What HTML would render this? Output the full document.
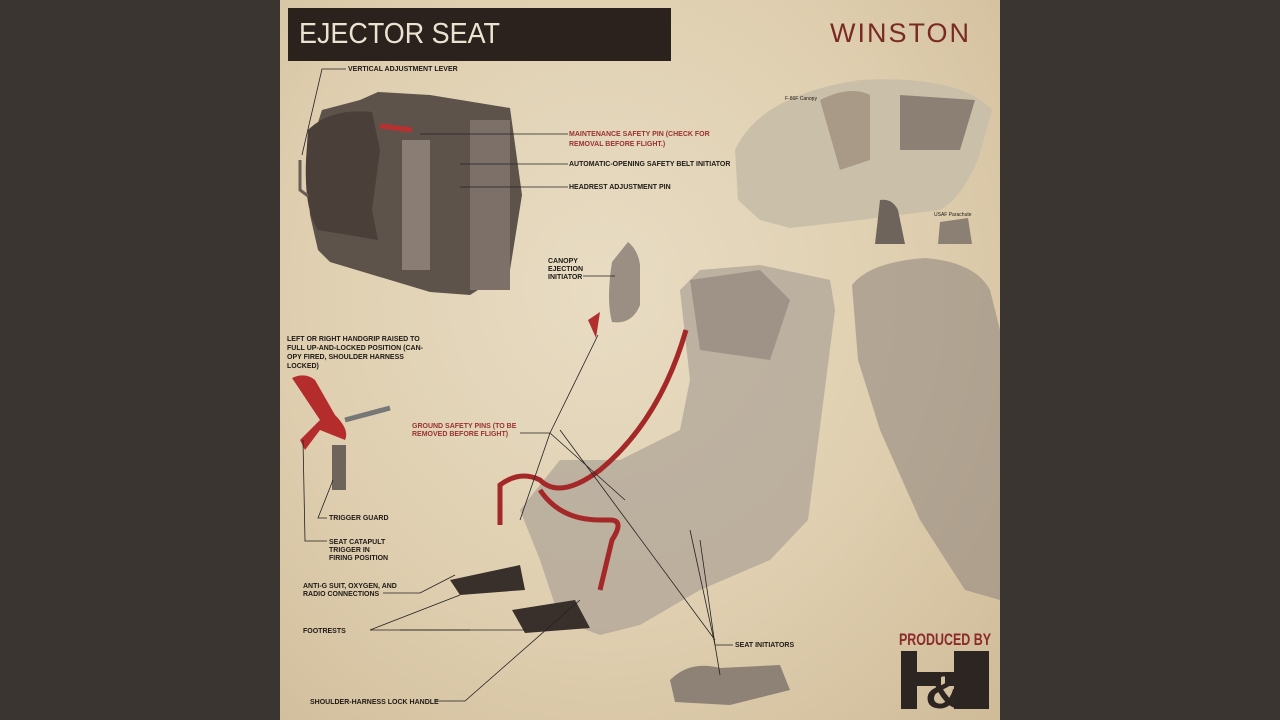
<!DOCTYPE html>
<html><head><meta charset="utf-8"><style>
html,body{margin:0;padding:0;width:1280px;height:720px;overflow:hidden;background:#3b3531}
.cover{position:absolute;left:280px;top:0;width:720px;height:720px;background:radial-gradient(ellipse at 45% 40%,#e8dcc3 0%,#dfcfb0 55%,#cfbb98 100%);overflow:hidden}
svg{position:absolute;left:0;top:0}
.t{font-family:"Liberation Sans",sans-serif;font-weight:bold;font-size:7px;fill:#1e1a16}
.r{fill:#9a3232}
</style></head><body>
<div class="cover"></div>
<svg width="1280" height="720" viewBox="0 0 1280 720">
<rect x="288" y="8" width="383" height="53" fill="#2b211d"/>
<text x="299" y="43" font-family="Liberation Sans,sans-serif" font-size="29" fill="#ece2d0" textLength="201" lengthAdjust="spacingAndGlyphs">EJECTOR SEAT</text>
<text x="830" y="42" font-family="Liberation Sans,sans-serif" font-size="27" fill="#7a2a24" letter-spacing="2">WINSTON</text>

<!-- top-left seat -->
<path d="M322 110 L360 100 L378 92 L430 95 L510 108 L522 195 L510 270 L470 295 L430 292 L330 262 L318 250 L310 215 L306 160 Z" fill="#5e534b"/>
<path d="M308 130 Q330 108 372 112 L380 150 L372 210 L378 240 L318 230 Q304 210 306 160 Z" fill="#4a3f39"/>
<rect x="470" y="120" width="40" height="170" fill="#7c7068"/>
<rect x="402" y="140" width="28" height="130" fill="#8a7d73"/>
<path d="M380 126 L412 130" stroke="#b83030" stroke-width="5"/>
<path d="M300 160 L300 190 L308 196" stroke="#6a5e56" stroke-width="3" fill="none"/>
<!-- canopy -->
<path d="M735 150 Q760 95 860 80 Q960 75 992 110 L978 160 Q960 200 940 210 L860 220 L790 228 L760 220 L738 200 Z" fill="#cabfa8"/>
<path d="M820 100 Q850 85 870 95 L870 160 L840 170 Z" fill="#a89a86"/>
<path d="M900 95 L975 100 L960 150 L900 150 Z" fill="#8c8074"/>
<path d="M880 200 Q892 198 898 210 L905 244 L875 244 Z" fill="#6e645c"/>
<path d="M940 222 L968 218 L972 244 L938 244 Z" fill="#8c8074"/>
<text x="785" y="100" class="t" style="font-size:5px;font-weight:normal">F-86F Canopy</text>
<text x="934" y="216" class="t" style="font-size:5px;font-weight:normal">USAF Parachute</text>

<!-- right ghost seat -->
<path d="M852 285 Q870 262 925 258 Q975 262 990 290 L1000 330 L1000 600 L965 590 L920 520 L880 430 L858 360 Z" fill="#9a8e82" opacity="0.65"/>
<!-- main seat -->
<path d="M680 290 L700 270 L760 265 L830 280 L835 310 L808 520 L770 560 L700 590 L640 625 L600 635 L560 620 L540 560 L520 510 L560 460 L620 460 L680 430 L690 380 Z" fill="#aca196" opacity="0.7"/>
<path d="M690 280 L760 270 L790 300 L770 360 L700 350 Z" fill="#978b80" opacity="0.8"/>
<path d="M450 580 L520 565 L525 590 L460 595 Z" fill="#3a302b"/>
<path d="M512 610 L575 600 L590 628 L525 633 Z" fill="#3a302b"/>
<path d="M628 242 Q638 250 640 265 L640 305 Q632 325 612 322 Q606 300 612 262 Z" fill="#9b8e82"/>
<path d="M670 680 Q690 660 720 668 L780 665 L790 690 L730 705 L675 702 Z" fill="#8e8276"/>
<!-- red harness -->
<path d="M686 330 Q660 420 600 470 Q560 500 540 480 Q520 470 500 485 L500 525 M540 490 Q560 520 600 520 L610 520 Q625 520 612 540 L600 590" stroke="#a42828" stroke-width="5" fill="none"/>
<path d="M588 320 L600 312 L596 338 Z" fill="#b03030"/>
<!-- handgrip -->
<path d="M292 378 Q305 372 315 380 L335 415 Q350 430 345 440 L320 430 L305 450 L300 440 L320 420 Z" fill="#b52c2c"/>
<path d="M345 420 L390 408" stroke="#777" stroke-width="5"/>
<rect x="332" y="445" width="14" height="45" fill="#6e645c"/>

<g stroke="#222" stroke-width="0.8" fill="none">
<path d="M346 69 L322 69 L302 155"/>
<path d="M568 134 L420 134"/><path d="M568 164 L460 164"/><path d="M568 187 L460 187"/>
<path d="M583 276 L615 276"/>
<path d="M520 433 L550 433 L598 335"/><path d="M550 433 L520 520"/><path d="M550 433 L625 500"/>
<path d="M327 518 L318 518 L333 480"/><path d="M327 541 L305 541 L303 440"/>
<path d="M383 593 L420 593 L455 575"/>
<path d="M370 630 L470 630"/><path d="M370 630 L460 595"/><path d="M400 630 L525 630"/>
<path d="M435 701 L465 701 L580 600"/>
<path d="M733 645 L715 645 L690 530"/><path d="M715 645 L700 540"/><path d="M715 645 L720 675"/>
<path d="M560 430 L715 640"/>
</g>
<text x="348" y="71" class="t">VERTICAL ADJUSTMENT LEVER</text>
<text x="569" y="136" class="t r">MAINTENANCE SAFETY PIN (CHECK FOR</text>
<text x="569" y="146" class="t r">REMOVAL BEFORE FLIGHT.)</text>
<text x="569" y="166" class="t">AUTOMATIC-OPENING SAFETY BELT INITIATOR</text>
<text x="569" y="189" class="t">HEADREST ADJUSTMENT PIN</text>
<text x="548" y="263" class="t">CANOPY</text>
<text x="548" y="271" class="t">EJECTION</text>
<text x="548" y="279" class="t">INITIATOR</text>
<text x="287" y="341" class="t">LEFT OR RIGHT HANDGRIP RAISED TO</text>
<text x="287" y="350" class="t">FULL UP-AND-LOCKED POSITION (CAN-</text>
<text x="287" y="359" class="t">OPY FIRED, SHOULDER HARNESS</text>
<text x="287" y="368" class="t">LOCKED)</text>
<text x="412" y="428" class="t r">GROUND SAFETY PINS (TO BE</text>
<text x="412" y="436" class="t r">REMOVED BEFORE FLIGHT)</text>
<text x="329" y="520" class="t">TRIGGER GUARD</text>
<text x="329" y="544" class="t">SEAT CATAPULT</text>
<text x="329" y="552" class="t">TRIGGER IN</text>
<text x="329" y="560" class="t">FIRING POSITION</text>
<text x="303" y="588" class="t">ANTI-G SUIT, OXYGEN, AND</text>
<text x="303" y="596" class="t">RADIO CONNECTIONS</text>
<text x="303" y="633" class="t">FOOTRESTS</text>
<text x="735" y="647" class="t">SEAT INITIATORS</text>
<text x="310" y="704" class="t">SHOULDER-HARNESS LOCK HANDLE</text>
<text x="899" y="645" font-family="Liberation Sans,sans-serif" font-weight="bold" font-size="17" fill="#8a2a2a" textLength="92" lengthAdjust="spacingAndGlyphs">PRODUCED BY</text>
<!-- H&H logo -->
<g fill="#2d2522">
<rect x="901" y="651" width="16" height="58"/>
<rect x="901" y="672" width="40" height="14"/>
<rect x="954" y="651" width="16" height="58"/>
<rect x="970" y="651" width="19" height="58"/>
<rect x="945" y="672" width="40" height="14"/>
</g>
<text x="944" y="708" text-anchor="middle" font-family="Liberation Sans,sans-serif" font-weight="bold" font-size="52" fill="#2d2522">&amp;</text>
</svg>
</body></html>
